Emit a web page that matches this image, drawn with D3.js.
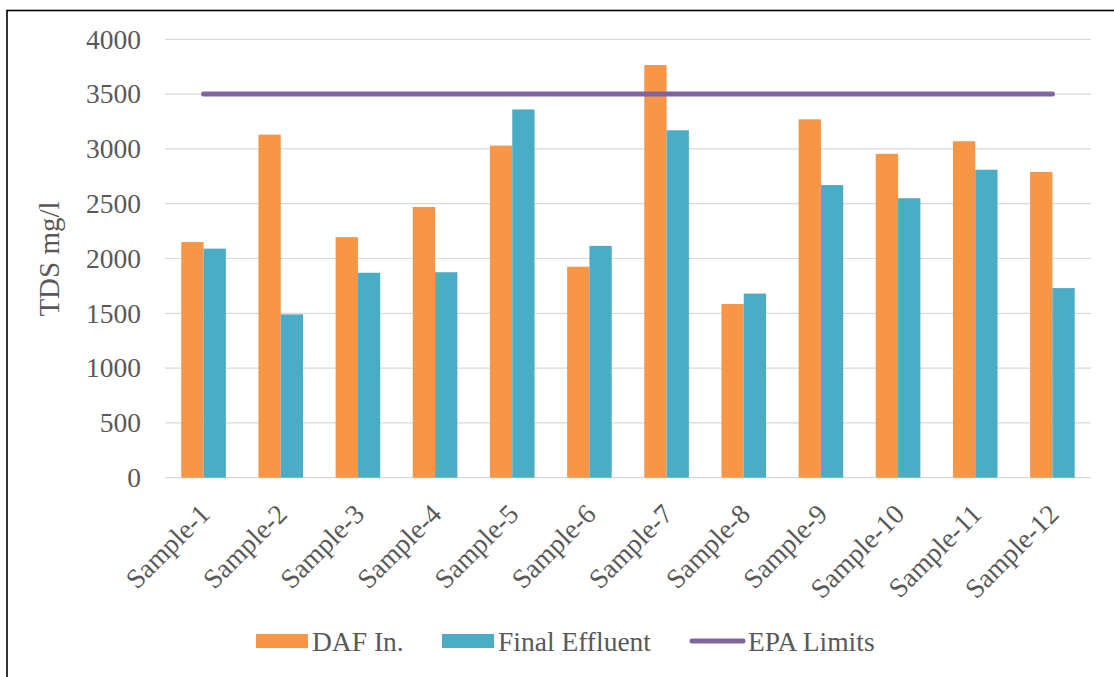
<!DOCTYPE html>
<html>
<head>
<meta charset="utf-8">
<script src="https://cdn.jsdelivr.net/npm/d3@7"></script>
<style>
  html, body { margin: 0; padding: 0; background: #fff; }
  svg { display: block; }
  svg text { font-family: "Liberation Serif", "Times New Roman", Times, serif !important; fill: #595959; }
</style>
</head>
<body>
<svg id="chart" width="1114" height="677" font-family="Liberation Serif"></svg>
<script>
// TDS concentrations per sample (mg/l)
const samples = ["Sample-1","Sample-2","Sample-3","Sample-4","Sample-5","Sample-6",
                 "Sample-7","Sample-8","Sample-9","Sample-10","Sample-11","Sample-12"];
const dafIn         = [2150, 3130, 2195, 2470, 3030, 1925, 3765, 1585, 3270, 2955, 3070, 2790];
const finalEffluent = [2090, 1490, 1870, 1875, 3360, 2115, 3170, 1680, 2670, 2550, 2810, 1730];
const epaLimits     = [3500, 3500, 3500, 3500, 3500, 3500, 3500, 3500, 3500, 3500, 3500, 3500];
const yTicks = [0, 500, 1000, 1500, 2000, 2500, 3000, 3500, 4000];
const seriesNames = ["DAF In.", "Final Effluent", "EPA Limits"];
const colors = { dafIn: "#F79646", finalEffluent: "#4BACC6", epa: "#8064A2" };

const svg = d3.select("#chart");
const serif = "'Liberation Serif', 'Times New Roman', serif";

// outer frame
svg.append("rect")
  .attr("x", 7).attr("y", 10.5).attr("width", 1300).attr("height", 900)
  .attr("fill", "none").attr("stroke", "#000").attr("stroke-width", 1.6);

const plot = { left: 165, right: 1091, top: 39.3, bottom: 477.7 };

const x0 = d3.scaleBand().domain(samples)
  .range([plot.left, plot.right]).paddingInner(0.422).paddingOuter(0.211);
const x1 = d3.scaleBand().domain(["dafIn", "finalEffluent"])
  .range([0, x0.bandwidth()]);
const y = d3.scaleLinear().domain([0, 4000]).range([plot.bottom, plot.top]);

// horizontal gridlines
svg.append("g").selectAll("line").data(yTicks).join("line")
  .attr("x1", plot.left).attr("x2", plot.right)
  .attr("y1", d => y(d)).attr("y2", d => y(d))
  .attr("stroke", "#D9D9D9").attr("stroke-width", 1.2);

// y axis labels
const yAxis = d3.axisLeft(y).tickValues(yTicks).tickFormat(d3.format("d")).tickSize(0).tickPadding(0);
const gy = svg.append("g").attr("transform", `translate(${plot.left - 24},0)`).call(yAxis)
  .attr("font-family", serif).attr("font-size", 27.5);
gy.select(".domain").remove();
gy.selectAll("text").attr("fill", "#595959");

// y axis title
svg.append("text")
  .attr("transform", `translate(59,259) rotate(-90)`)
  .attr("text-anchor", "middle")
  .attr("font-family", serif)
  .attr("font-size", 29)
  .text("TDS mg/l");

// grouped bars
const rows = samples.map((s, i) => ({ sample: s, dafIn: dafIn[i], finalEffluent: finalEffluent[i] }));
const groups = svg.append("g").selectAll("g").data(rows).join("g")
  .attr("transform", d => `translate(${x0(d.sample)},0)`);
groups.selectAll("rect")
  .data(d => ["dafIn", "finalEffluent"].map(k => ({ key: k, value: d[k] })))
  .join("rect")
  .attr("x", d => x1(d.key))
  .attr("width", x1.bandwidth())
  .attr("y", d => y(d.value))
  .attr("height", d => y(0) - y(d.value))
  .attr("fill", d => colors[d.key]);

// EPA limit line
const line = d3.line()
  .x((d, i) => x0(samples[i]) + x0.bandwidth() / 2)
  .y(d => y(d));
svg.append("path")
  .datum(epaLimits)
  .attr("d", line)
  .attr("fill", "none")
  .attr("stroke", colors.epa)
  .attr("stroke-width", 5)
  .attr("stroke-linecap", "round");

// x axis category labels, rotated
const xAxis = d3.axisBottom(x0).tickSize(0).tickPadding(0);
const gx = svg.append("g").attr("transform", `translate(0,${plot.bottom})`).call(xAxis)
  .attr("font-family", serif).attr("font-size", 27.5);
gx.select(".domain").remove();
gx.selectAll("text")
  .attr("fill", "#595959")
  .attr("text-anchor", "end")
  .attr("dy", 0)
  .attr("y", 0)
  .attr("transform", `translate(8,38) rotate(-45)`);

// legend
const legend = svg.append("g").attr("font-family", serif).attr("font-size", 27.5);
const legendItems = [
  { name: seriesNames[0], type: "rect", color: colors.dafIn, sx: 256, tx: 312 },
  { name: seriesNames[1], type: "rect", color: colors.finalEffluent, sx: 442, tx: 498 },
  { name: seriesNames[2], type: "line", color: colors.epa, sx: 690, tx: 748 }
];
legendItems.forEach(it => {
  if (it.type === "rect") {
    legend.append("rect").attr("x", it.sx).attr("y", 634).attr("width", 52).attr("height", 14)
      .attr("fill", it.color);
  } else {
    legend.append("line").attr("x1", it.sx + 2).attr("x2", it.sx + 53)
      .attr("y1", 641).attr("y2", 641)
      .attr("stroke", it.color).attr("stroke-width", 5).attr("stroke-linecap", "round");
  }
  legend.append("text").attr("x", it.tx).attr("y", 651).text(it.name);
});
</script>
</body>
</html>
